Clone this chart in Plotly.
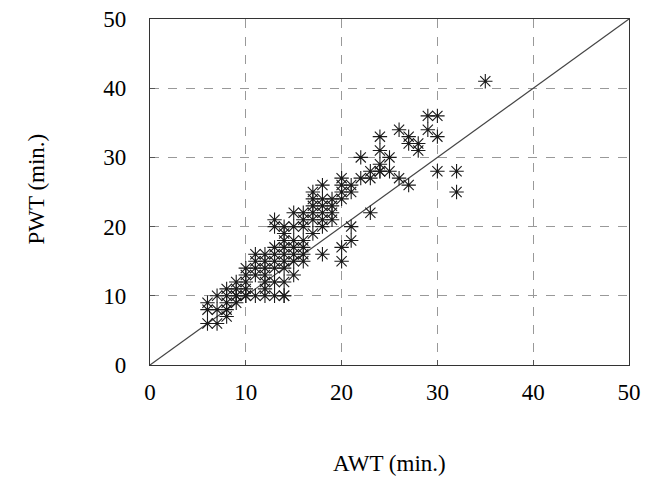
import plotly.graph_objects as go

# Estimated data: AWT (x) vs PWT (y), minutes
awt = [6, 6, 6, 7, 7, 7, 8, 8, 8, 8, 8, 9, 9, 9, 9, 9, 10, 10, 10, 10, 10, 10,
       11, 11, 11, 11, 11, 12, 12, 12, 12, 12, 12, 13, 13, 13, 13, 13, 13, 13,
       14, 14, 14, 14, 14, 14, 14, 14, 14, 14, 15, 15, 15, 15, 15, 15, 15,
       16, 16, 16, 16, 16, 16, 17, 17, 17, 17, 17, 18, 18, 18, 18, 18, 18, 18,
       19, 19, 19, 20, 20, 20, 20, 20, 20, 21, 21, 21, 21, 22, 22, 23, 23, 23,
       24, 24, 24, 24, 24, 25, 25, 26, 26, 27, 27, 27, 28, 28, 29, 29, 30, 30,
       30, 32, 32, 35, 16, 19, 17, 12, 13]
pwt = [6, 8, 9, 6, 8, 10, 7, 8, 9, 10, 11, 9, 10, 11, 12, 10, 10, 11, 12, 13, 14, 10,
       10, 13, 14, 15, 16, 10, 12, 14, 15, 16, 13, 10, 14, 15, 16, 17, 20, 21,
       10, 12, 14, 15, 16, 17, 18, 19, 20, 10, 13, 15, 16, 17, 18, 20, 22,
       15, 16, 18, 20, 21, 22, 19, 22, 23, 24, 25, 16, 20, 21, 22, 23, 24, 26,
       22, 23, 24, 15, 17, 24, 25, 26, 27, 18, 20, 25, 26, 27, 30, 22, 28, 27,
       28, 29, 31, 33, 28, 28, 30, 27, 34, 26, 32, 33, 31, 32, 34, 36, 28, 33,
       36, 25, 28, 41, 17, 21, 21, 11, 12]

line_x = [0, 50]
line_y = [0, 50]
ticks = [0, 10, 20, 30, 40, 50]

fig = go.Figure()
fig.add_trace(go.Scatter(x=line_x, y=line_y, mode="lines",
                         line=dict(color="#444444", width=1.2),
                         showlegend=False, hoverinfo="skip"))
fig.add_trace(go.Scatter(x=awt, y=pwt, mode="markers",
                         marker=dict(symbol="asterisk-open", size=12,
                                     color="#1a1a1a",
                                     line=dict(color="#1a1a1a", width=1.1)),
                         showlegend=False))

font = dict(family="'Liberation Serif', 'Times New Roman', serif", size=23, color="black")
axis_common = dict(range=[0, 50], tickvals=ticks, ticks="inside", ticklen=5,
                   tickcolor="#555555", showline=True, linecolor="#333333",
                   linewidth=1.2, mirror=True, showgrid=True,
                   gridcolor="#999999", griddash="dash", gridwidth=1,
                   zeroline=False, tickfont=font, automargin=False)

fig.update_layout(
    width=657, height=477,
    margin=dict(l=150, r=28, t=19, b=112, autoexpand=False),
    plot_bgcolor="white", paper_bgcolor="white",
    font=font,
    xaxis=dict(**axis_common, ticklabelstandoff=6),
    yaxis=dict(**axis_common, ticklabelstandoff=18),
    annotations=[
        dict(text="AWT (min.)", x=0.5, y=-0.285, xref="paper", yref="paper",
             showarrow=False, font=font, xanchor="center", yanchor="middle"),
        dict(text="PWT (min.)", x=-0.236, y=0.51, xref="paper", yref="paper",
             showarrow=False, font=font, textangle=-90,
             xanchor="center", yanchor="middle"),
    ],
)

fig.write_html("out.html")
